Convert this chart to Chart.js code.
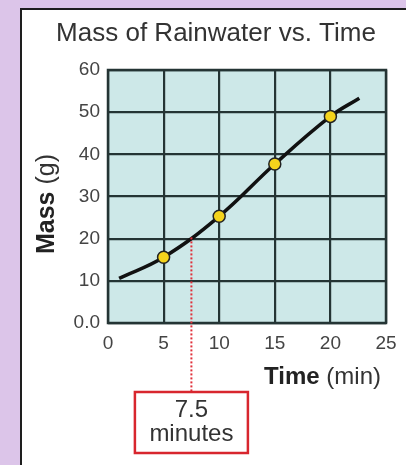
<!DOCTYPE html>
<html>
<head>
<meta charset="utf-8">
<script src="https://cdn.jsdelivr.net/npm/chart.js@4.4.1/dist/chart.umd.min.js"></script>
<style>
  html, body { margin: 0; padding: 0; }
  body { width: 406px; height: 465px; background: #dcc5e9; position: relative; overflow: hidden; }
  #panel { position: absolute; left: 20px; top: 8px; width: 390px; height: 455px; background: #fff;
           border-left: 2px solid #1e1e1e; border-top: 2px solid #1e1e1e; }
  #wrap { position: absolute; left: 0; top: 0; width: 406px; height: 465px; }
</style>
</head>
<body>
<div id="panel"></div>
<div id="wrap"><canvas id="chart" width="406" height="465"></canvas></div>
<script>
// curve (time in min, mass in g)
const curveTime = [1, 5, 10, 15, 20, 22.6];
const curveMass = [10.6, 15.6, 25.3, 37.7, 49.0, 53.3];

// measured points marked with dots
const pointTime = [5, 10, 15, 20];
const pointMass = [15.6, 25.3, 37.7, 49.0];

const yTickLabels = ['0.0', '10', '20', '30', '40', '50', '60'];
const xTickLabels = ['0', '5', '10', '15', '20', '25'];

const markTime = 7.5;
const markMass = 20.3;
const markText = ['7.5', 'minutes'];

const FONT = '"Liberation Sans", Arial, sans-serif';
const GRID = '#243434';

// teal plot background, title, axis titles and the 7.5 min call-out
const extras = {
  id: 'extras',
  beforeDraw(chart) {
    const { ctx, chartArea: a } = chart;
    ctx.save();
    ctx.fillStyle = '#cde8e8';
    ctx.fillRect(a.left, a.top, a.right - a.left, a.bottom - a.top);
    ctx.restore();
  },
  afterDraw(chart) {
    const { ctx, chartArea: a, scales: { x, y } } = chart;
    ctx.save();

    // border of the plot
    ctx.strokeStyle = GRID;
    ctx.lineWidth = 2.5;
    ctx.strokeRect(a.left, a.top, a.right - a.left, a.bottom - a.top);

    // title
    ctx.fillStyle = '#333';
    ctx.font = '26px ' + FONT;
    ctx.textAlign = 'center';
    ctx.textBaseline = 'middle';
    ctx.fillText('Mass of Rainwater vs. Time', 216, 34);

    // x axis title: bold "Time" + regular "(min)"
    ctx.textAlign = 'left';
    ctx.font = 'bold 24px ' + FONT;
    const w1 = ctx.measureText('Time ').width;
    ctx.font = '24px ' + FONT;
    const w2 = ctx.measureText('(min)').width;
    let tx = 381 - w1 - w2;
    ctx.font = 'bold 24px ' + FONT;
    ctx.fillStyle = '#222';
    ctx.fillText('Time ', tx, 377);
    ctx.font = '24px ' + FONT;
    ctx.fillStyle = '#333';
    ctx.fillText('(min)', tx + w1, 377);

    // y axis title rotated
    ctx.save();
    ctx.translate(47, 204);
    ctx.rotate(-Math.PI / 2);
    ctx.font = 'bold 25px ' + FONT;
    const m1 = ctx.measureText('Mass ').width;
    ctx.font = '25px ' + FONT;
    const m2 = ctx.measureText('(g)').width;
    ctx.font = 'bold 25px ' + FONT;
    ctx.fillStyle = '#222';
    ctx.fillText('Mass ', -(m1 + m2) / 2, 0);
    ctx.font = '25px ' + FONT;
    ctx.fillStyle = '#333';
    ctx.fillText('(g)', -(m1 + m2) / 2 + m1, 0);
    ctx.restore();

    // dotted red drop line and box
    const px = x.getPixelForValue(markTime);
    const py = y.getPixelForValue(markMass);
    const boxW = 113, boxH = 61, boxTop = 392;
    ctx.strokeStyle = '#e0303a';
    ctx.lineWidth = 2;
    ctx.setLineDash([2, 2]);
    ctx.beginPath();
    ctx.moveTo(px, py);
    ctx.lineTo(px, boxTop);
    ctx.stroke();
    ctx.setLineDash([]);
    ctx.fillStyle = '#fff';
    ctx.fillRect(px - boxW / 2, boxTop, boxW, boxH);
    ctx.strokeStyle = '#d8262e';
    ctx.lineWidth = 2.5;
    ctx.strokeRect(px - boxW / 2, boxTop, boxW, boxH);
    ctx.fillStyle = '#333';
    ctx.font = '24px ' + FONT;
    ctx.textAlign = 'center';
    ctx.fillText(markText[0], px, boxTop + 18);
    ctx.fillText(markText[1], px, boxTop + 42);

    ctx.restore();
  }
};

new Chart(document.getElementById('chart'), {
  type: 'scatter',
  data: {
    datasets: [
      {
        type: 'line',
        data: curveTime.map((t, i) => ({ x: t, y: curveMass[i] })),
        borderColor: '#111',
        borderWidth: 3.5,
        tension: 0.4,
        pointRadius: 0,
        fill: false,
        order: 2
      },
      {
        data: pointTime.map((t, i) => ({ x: t, y: pointMass[i] })),
        backgroundColor: '#f4d31c',
        borderColor: '#222',
        borderWidth: 1.5,
        pointRadius: 6,
        order: 1
      }
    ]
  },
  options: {
    responsive: false,
    animation: false,
    events: [],
    layout: { padding: { left: 40, right: 20, top: 70, bottom: 112 } },
    plugins: { legend: { display: false }, tooltip: { enabled: false } },
    scales: {
      x: {
        type: 'linear',
        min: 0, max: 25,
        afterFit(scale) { scale.height = 30; },
        ticks: {
          stepSize: 5,
          padding: 9,
          color: '#444',
          font: { family: FONT, size: 19 },
          callback: (v) => xTickLabels[v / 5]
        },
        grid: { color: GRID, lineWidth: 2.2, drawTicks: false },
        border: { display: false }
      },
      y: {
        min: 0, max: 60,
        afterFit(scale) { scale.width = 68; },
        ticks: {
          stepSize: 10,
          padding: 8,
          color: '#444',
          font: { family: FONT, size: 19 },
          callback: (v) => yTickLabels[v / 10]
        },
        grid: { color: GRID, lineWidth: 2.2, drawTicks: false },
        border: { display: false }
      }
    }
  },
  plugins: [extras]
});
</script>
</body>
</html>
